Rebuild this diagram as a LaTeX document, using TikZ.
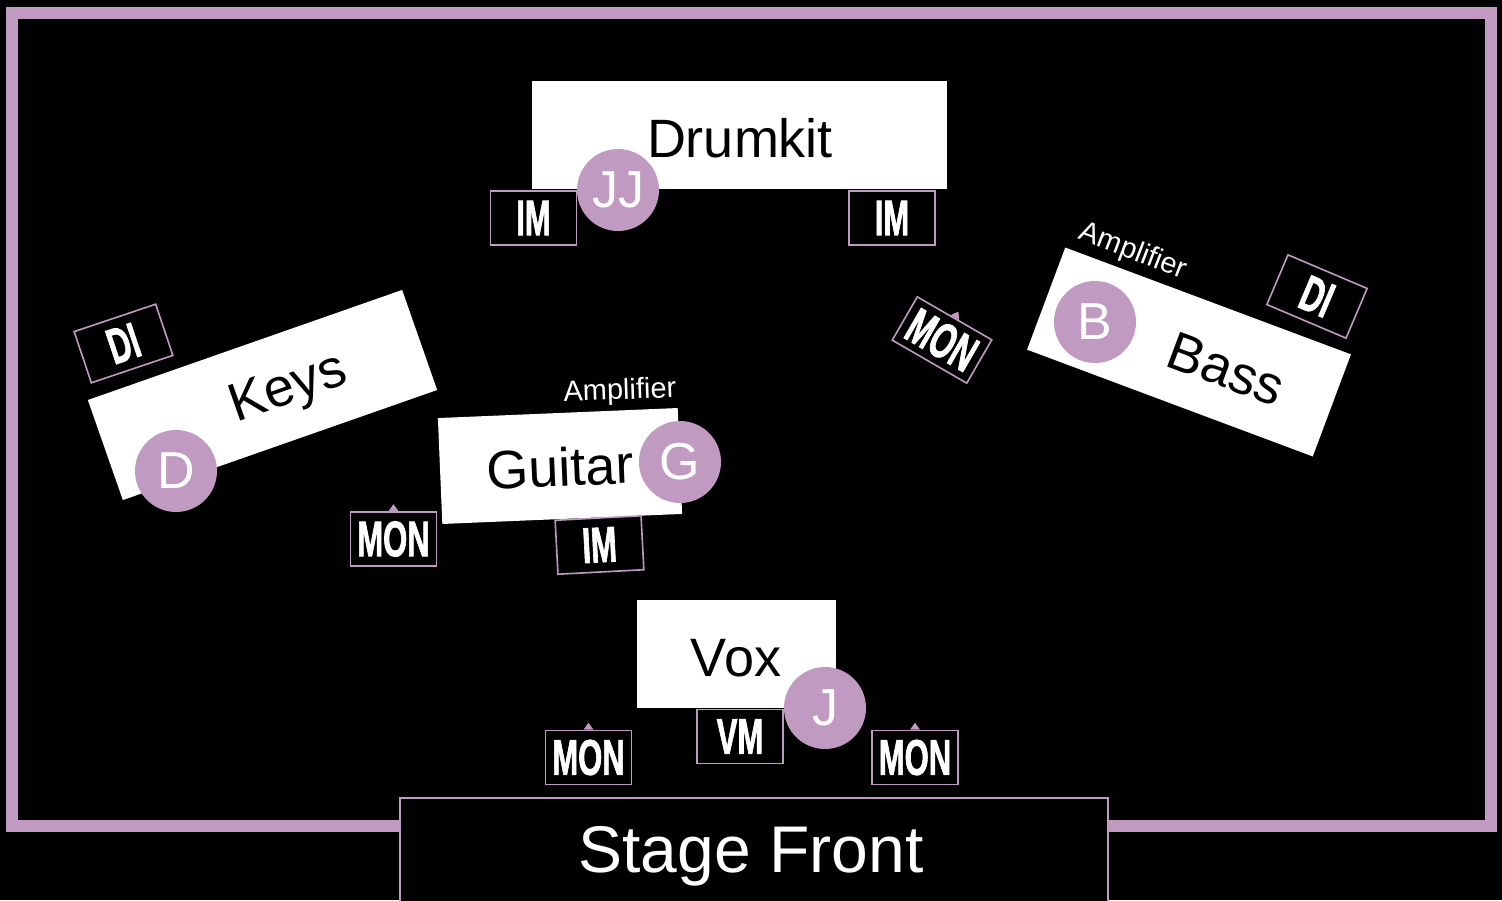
\documentclass[tikz,border=0pt]{standalone}
\usepackage{fontspec}
\usepackage{graphicx}
\setmainfont{Liberation Sans}
\newfontfamily\lblfont{Liberation Sans}[BoldFeatures={FakeBold=2}]
\usetikzlibrary{calc}
\definecolor{lilac}{HTML}{C09AC0}
\newcommand\lbltxt[1]{\scalebox{0.62}[1]{\lblfont\fontsize{50}{50}\selectfont\bfseries #1}}
\tikzset{
  area/.style={fill=white, inner sep=0pt},
  tag/.style={draw=lilac, line width=1.6pt, fill=black, minimum width=86pt, minimum height=54pt, inner sep=0pt, text=white},
  person/.style={circle, fill=lilac, minimum size=82pt, inner sep=0pt, text=white, font=\fontsize{52}{52}\selectfont},
  big/.style={inner sep=0pt, text=black, font=\fontsize{54}{60}\selectfont},
  amp/.style={inner sep=0pt, text=white, font=\fontsize{29}{30}\selectfont},
  wedge/.style={fill=lilac}
}
\newcommand\wedgeon[1]{\fill[wedge] ($(#1.north)!5pt!(#1.north west)$) -- ($(#1.north)!5pt!(#1.north east)$) -- ($(#1.north)!-7pt!(#1.center)$) -- cycle;}
\begin{document}
\begin{tikzpicture}[x=1pt,y=-1pt]
\fill[black] (0,0) rectangle (1502,900);
\useasboundingbox (0,0) rectangle (1502,900);
% stage frame
\draw[lilac, line width=12pt] (11.5,12.5) rectangle (1490.5,826);
% stage front
\node[draw=lilac, line width=1.6pt, fill=black, minimum width=708pt, minimum height=120pt, anchor=north west, inner sep=0pt] (front) at (399,797) {};
\node[inner sep=0pt, text=white, font=\fontsize{66}{70}\selectfont, anchor=base] (fronttxt) at (751,872) {Stage Front};

% Drumkit
\node[area, minimum width=415pt, minimum height=108pt] (drum) at (739.5,135) {};
\node[big, anchor=base] (drumtxt) at (740,157) {Drumkit};
\node[tag] (imdl) at (533.5,218) {\lbltxt{IM}};
\node[tag] (imdr) at (892,218) {\lbltxt{IM}};
\node[person] (jj) at (618,190) {JJ};

% Keys
\node[area, minimum width=333pt, minimum height=106pt, rotate=19.3] (keys) at (262.5,395) {};
\node[big, rotate=19.3] (keystxt) at (289,390) {Keys};
\node[tag, rotate=18.6] (dik) at (123.5,343.5) {\lbltxt{DI}};
\node[person] (d) at (176,471) {D};

% Guitar
\node[area, minimum width=240pt, minimum height=106pt, rotate=2.4] (guitar) at (560,466) {};
\node[big, rotate=2.4] (guitartxt) at (560,467) {Guitar};
\node[amp, rotate=2] (ampg) at (620,392) {Amplifier};
\node[tag, rotate=3] (img) at (599.5,545) {\lbltxt{IM}};
\node[tag] (monl) at (393.5,539) {\lbltxt{MON}};
\wedgeon{monl}
\node[person] (g) at (680,462) {G};

% Bass
\node[area, minimum width=305pt, minimum height=109pt, rotate=-20.5] (bass) at (1189,352) {};
\node[big, rotate=-20.5] (basstxt) at (1226,369) {Bass};
\node[amp, rotate=-21] (ampb) at (1133,252) {Amplifier};
\node[tag, rotate=-23] (dib) at (1317,296.5) {\lbltxt{DI}};
\node[person] (b) at (1095,322) {B};

% rotated monitor
\node[tag, minimum height=50pt, rotate=-30] (monr) at (942,340) {\lbltxt{MON}};
\wedgeon{monr}

% Vox
\node[area, minimum width=199pt, minimum height=108pt] (vox) at (736.5,654) {};
\node[big, anchor=base] (voxtxt) at (736,676) {Vox};
\node[tag] (vm) at (740,736.5) {\lbltxt{VM}};
\node[tag] (monfl) at (588.5,757.5) {\lbltxt{MON}};
\wedgeon{monfl}
\node[tag] (monfr) at (915,757.5) {\lbltxt{MON}};
\wedgeon{monfr}
\node[person] (j) at (825,708) {J};
\end{tikzpicture}
\end{document}
